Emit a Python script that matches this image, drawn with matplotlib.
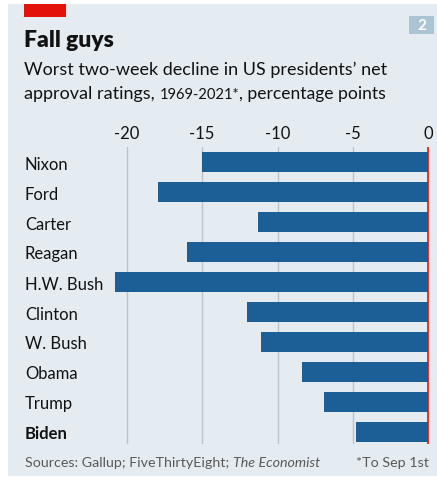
import matplotlib
matplotlib.use("Agg")
import matplotlib.pyplot as plt
from matplotlib.patches import Rectangle

presidents = ["Nixon", "Ford", "Carter", "Reagan", "H.W. Bush",
              "Clinton", "W. Bush", "Obama", "Trump", "Biden"]
declines = [-15.0, -17.9, -11.3, -16.0, -20.8, -12.0, -11.1, -8.4, -6.9, -4.8]
tick_values = [-20, -15, -10, -5, 0]
tick_labels = ["-20", "-15", "-10", "-5", "0"]

W, H = 437, 481
DPI = 100
BG = "#e5ecf1"
BAR = "#1c5f96"
RED = "#e3120b"
GRID = "#b9c3ca"
TEXT = "#121212"
GREY = "#595959"
FONT = "Lato"

plt.rcParams["font.family"] = [FONT, "DejaVu Sans"]

fig = plt.figure(figsize=(W / DPI, H / DPI), dpi=DPI)
fig.patch.set_facecolor("white")

def px(x, y):
    return x / W, 1 - y / H

# panel background
fig.patches.append(Rectangle(px(8, 477), (W - 8) / W, (477 - 5) / H,
                             transform=fig.transFigure, facecolor=BG,
                             edgecolor="none", zorder=-5))
# red tag
fig.patches.append(Rectangle(px(24, 18), 42 / W, 13 / H,
                             transform=fig.transFigure, facecolor=RED,
                             edgecolor="none", zorder=-4))
# chart number box
fig.patches.append(Rectangle(px(409, 35), 25 / W, 18 / H,
                             transform=fig.transFigure, facecolor="#abc4d4",
                             edgecolor="none", zorder=-4))
fig.text(*px(421.5, 26.5), "2", color="white", fontsize=11, fontweight="bold",
         ha="center", va="center")

fig.text(*px(24, 47), "Fall guys", fontsize=16.5, fontweight="heavy",
         color=TEXT, ha="left", va="baseline")
fig.text(*px(24, 75), "Worst two-week decline in US presidents\u2019 net",
         fontsize=13, color=TEXT, ha="left", va="baseline")
t1 = fig.text(*px(24, 99), "approval ratings, ", fontsize=13, color=TEXT,
              ha="left", va="baseline")
fig.canvas.draw()
r = fig.canvas.get_renderer()
bb = t1.get_window_extent(r)
t2 = fig.text(bb.x1 / W, 1 - 99 / H, "1969-2021*", fontsize=10.6, color=TEXT,
              ha="left", va="baseline")
bb2 = t2.get_window_extent(r)
fig.text(bb2.x1 / W, 1 - 99 / H, ", percentage points", fontsize=12.6,
         color=TEXT, ha="left", va="baseline")

# axes area in pixels
xmin, xmax = -21.6, 0.2
zero_px, unit_px = 428.3, 15.08
left = zero_px + xmin * unit_px
right = zero_px + xmax * unit_px
top, bottom = 148, 445
ax = fig.add_axes([left / W, 1 - bottom / H, (right - left) / W, (bottom - top) / H])
ax.set_zorder(2)
ax.set_facecolor("none")
ax.set_xlim(xmin, xmax)
ax.set_ylim(9.4, -0.5)

ypos = list(range(len(presidents)))
ax.barh(ypos, declines, height=0.66, color=BAR, zorder=2)
for v in tick_values[:-1]:
    ax.axvline(v, color=GRID, lw=1.0, zorder=1)
ax.axvline(0, color=RED, lw=1.2, zorder=3)

for s in ax.spines.values():
    s.set_visible(False)

ax.xaxis.tick_top()
ax.set_xticks(tick_values)
ax.set_xticklabels(tick_labels)
ax.tick_params(axis="x", length=0, pad=4, labelsize=12, colors=TEXT)

ax.set_yticks(ypos)
ax.set_yticklabels(presidents)
ax.tick_params(axis="y", length=0, pad=(left - 25) * 72 / DPI,
               labelsize=12, colors=TEXT)
for lab in ax.get_yticklabels():
    lab.set_horizontalalignment("left")
    if lab.get_text() == "Biden":
        lab.set_fontweight("bold")

# footer
s1 = fig.text(*px(25, 467), "Sources: Gallup; FiveThirtyEight; ", fontsize=10.3,
              color=GREY, ha="left", va="baseline")
fig.canvas.draw()
bb = s1.get_window_extent(fig.canvas.get_renderer())
fig.text(bb.x1 / W, 1 - 467 / H, "The Economist", fontsize=10.3,
         style="italic", color=GREY, ha="left", va="baseline")
fig.text(*px(429, 467), "*To Sep 1st", fontsize=10.3, color=GREY,
         ha="right", va="baseline")

fig.savefig("out.png", dpi=DPI, facecolor=fig.get_facecolor())
